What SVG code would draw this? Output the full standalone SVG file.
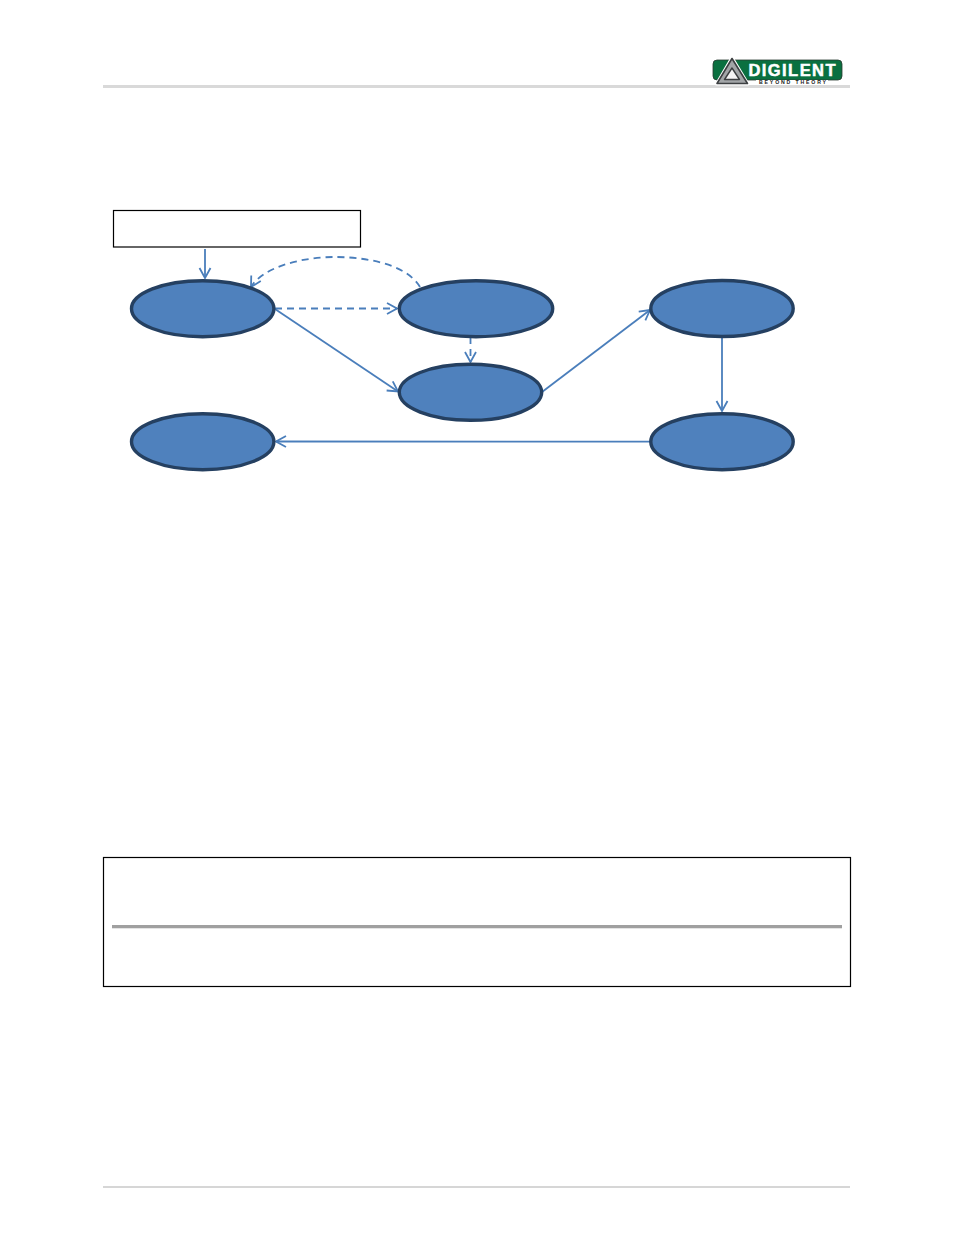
<svg xmlns="http://www.w3.org/2000/svg" width="954" height="1235" viewBox="0 0 954 1235">
<style>
.state{fill:#4f81bd;stroke:#254061;stroke-width:3.4}
.box{fill:#fff;stroke:#000;stroke-width:1.2}
.edge{fill:none;stroke:#4a7ebb;stroke-width:1.8;marker-end:url(#arrow)}
.dash{stroke-dasharray:7 5}
.logo{font-family:"Liberation Sans",Arial,sans-serif;font-weight:700}
</style>
<defs>
<marker id="arrow" viewBox="0 0 12 14" refX="11" refY="7" markerWidth="12" markerHeight="14" markerUnits="userSpaceOnUse" orient="auto">
<path d="M1 1.500L11 7L1 12.500" fill="none" stroke="#4a7ebb" stroke-width="1.8"/>
</marker>
</defs>
<rect width="954" height="1235" fill="#fff"/>
<rect id="header-rule" x="103" y="85" width="747" height="3" fill="#d9d9d9"/>
<rect id="footer-rule" x="103" y="1186" width="747" height="2" fill="#d6d6d6"/>
<g id="logo">
<rect x="713" y="60" width="129" height="20" rx="4" fill="#0a7040" stroke="#2a3a30" stroke-width="0.8"/>
<path d="M732 57.500L748 84H716.500Z" fill="#fff" stroke="#fff" stroke-width="3" stroke-linejoin="round"/>
<path d="M732 58.500L747.500 83.500H717Z" fill="#a2a5a7" stroke="#3c3f41" stroke-width="1.600" stroke-linejoin="round"/>
<path d="M732 68L739.500 79.500H724.500Z" fill="#f4f4f4" stroke="#3c3f41" stroke-width="1.400" stroke-linejoin="round"/>
<text class="logo" x="748.500" y="76" font-size="16.500" fill="#fff" stroke="#fff" stroke-width="0.500" textLength="87" lengthAdjust="spacing">DIGILENT</text>
<rect x="756" y="80" width="72" height="5" fill="#fff"/>
<text class="logo" x="759" y="84.300" font-size="5.200" fill="#222" textLength="67" lengthAdjust="spacing">BEYOND THEORY</text>
</g>
<g id="connectors">
<path class="edge" d="M205 249V278"/>
<path class="edge dash" d="M420 287C405 262 360 257 335 257C300 257 262 268 251 287"/>
<path class="edge dash" d="M275 308.500H397"/>
<path class="edge" d="M275 309L398 391.500"/>
<path class="edge dash" d="M470.500 337V362"/>
<path class="edge" d="M542 392L650 310"/>
<path class="edge" d="M722 337V411"/>
<path class="edge" d="M650 441.700L276 441.500"/>
</g>
<g id="init-box"><rect class="box" x="113.500" y="210.500" width="247" height="36.500"/></g>
<g id="state-1"><ellipse class="state" cx="202.700" cy="308.700" rx="71.200" ry="28"/></g>
<g id="state-2"><ellipse class="state" cx="476" cy="308.700" rx="76.700" ry="28"/></g>
<g id="state-3"><ellipse class="state" cx="470.500" cy="392.300" rx="71.200" ry="28"/></g>
<g id="state-4"><ellipse class="state" cx="202.700" cy="441.700" rx="71.200" ry="28"/></g>
<g id="state-5"><ellipse class="state" cx="722" cy="308.500" rx="71.200" ry="28"/></g>
<g id="state-6"><ellipse class="state" cx="722" cy="441.700" rx="71.200" ry="28"/></g>
<g id="note-box">
<rect class="box" x="103.500" y="857.500" width="747" height="129"/>
<rect x="112" y="925" width="730" height="3" fill="#a0a0a0"/>
<rect x="112" y="928" width="730" height="1" fill="#e4e4e4"/>
</g>
</svg>
